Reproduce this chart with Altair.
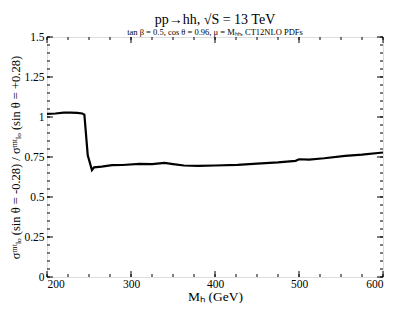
import altair as alt
import pandas as pd

mh = [200, 210, 220, 228, 236, 242, 244.5, 248.5, 253.5, 256, 265, 277.5, 290, 310, 325, 340, 350,
      363, 380, 400, 427, 450, 475, 496, 500, 512, 530, 555, 575, 600]
ratio = [1.020, 1.022, 1.027, 1.027, 1.026, 1.022, 1.015, 0.760, 0.668, 0.685, 0.690, 0.699, 0.700,
         0.707, 0.705, 0.713, 0.706, 0.697, 0.695, 0.697, 0.701, 0.708, 0.716, 0.726, 0.736, 0.734,
         0.742, 0.757, 0.765, 0.778]

y_major = [0, 0.25, 0.5, 0.75, 1.0, 1.25, 1.5]
y_minor = [round(i * 0.05, 2) for i in range(31)]
x_major = [200, 300, 400, 500, 600]
x_minor = [200 + 25 * i for i in range(17)]

W, H = 336, 240
FONT = "Liberation Serif"

df = pd.DataFrame({"mh": mh, "ratio": ratio})
xs = alt.Scale(domain=[200, 600], nice=False)
ys = alt.Scale(domain=[0, 1.5], nice=False)

x_axis = alt.Axis(values=x_major, ticks=False, domain=False, grid=False, labelOverlap=False,
                  title="Mₕ (GeV)", labelFont=FONT, labelFontSize=11.5,
                  labelPadding=1, titleFont=FONT, titleFontSize=13.5,
                  titleFontWeight="normal", titlePadding=0, labelColor="black",
                  titleColor="black")
y_axis = alt.Axis(values=y_major, ticks=False, domain=False, grid=False, format=".4~g",
                  labelOverlap=False,
                  title="σᵐᵗₗₒ (sin θ = -0.28) / σᵐᵗₗₒ (sin θ = +0.28)",
                  labelFont=FONT, labelFontSize=11.5, labelPadding=3,
                  titleFont=FONT, titleFontSize=12.5, titleFontWeight="normal",
                  titlePadding=1, labelColor="black", titleColor="black")

line = alt.Chart(df).mark_line(color="black", strokeWidth=2.2).encode(
    x=alt.X("mh:Q", scale=xs, axis=x_axis),
    y=alt.Y("ratio:Q", scale=ys, axis=y_axis),
)

def yticks(vals, ln):
    d = pd.DataFrame({"v": vals})
    left = alt.Chart(d).mark_rule(color="black", strokeWidth=1).encode(
        y=alt.Y("v:Q", scale=ys, axis=y_axis), x=alt.value(0), x2=alt.value(ln))
    right = alt.Chart(d).mark_rule(color="black", strokeWidth=1).encode(
        y=alt.Y("v:Q", scale=ys, axis=y_axis), x=alt.value(W), x2=alt.value(W - ln))
    return [left, right]

def xticks(vals, ln):
    d = pd.DataFrame({"v": vals})
    bot = alt.Chart(d).mark_rule(color="black", strokeWidth=1).encode(
        x=alt.X("v:Q", scale=xs, axis=x_axis), y=alt.value(H), y2=alt.value(H - ln))
    top = alt.Chart(d).mark_rule(color="black", strokeWidth=1).encode(
        x=alt.X("v:Q", scale=xs, axis=x_axis), y=alt.value(0), y2=alt.value(ln))
    return [bot, top]

layers = yticks(y_minor, 3) + yticks(y_major, 6) + xticks(x_minor, 3) + xticks(x_major, 6) + [line]

chart = alt.layer(*layers).properties(
    width=W, height=H,
    title=alt.TitleParams(
        text="pp→hh, √S = 13 TeV",
        subtitle="tan β = 0.5, cos θ = 0.96, μ = Mₕₕ, CT12NLO PDFs",
        font=FONT, fontSize=14, fontWeight="normal", color="black",
        subtitleFont=FONT, subtitleFontSize=8.5, subtitleColor="black",
        subtitlePadding=1, offset=-5, anchor="middle"),
    autosize=alt.AutoSizeParams(type="none"),
    padding={"left": 39, "top": 29, "right": 8, "bottom": 26},
).configure_view(stroke="black", strokeWidth=1.5).configure(background="white")

chart.save("out.html", embed_options={"renderer": "svg", "actions": False})
